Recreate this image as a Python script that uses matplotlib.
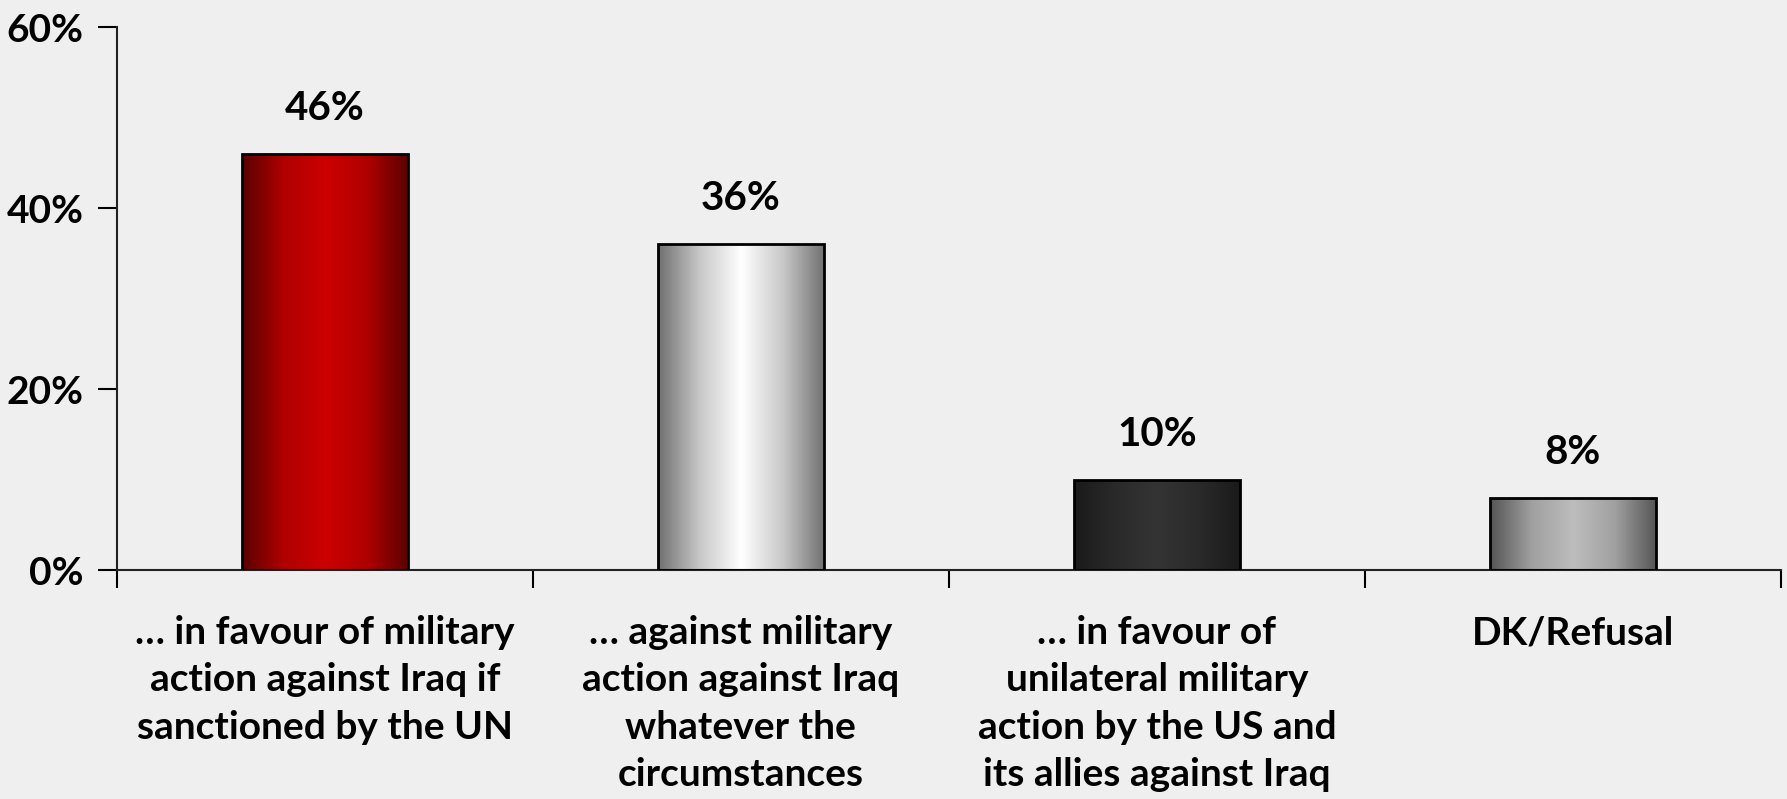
import numpy as np
import matplotlib
matplotlib.use("Agg")
import matplotlib.pyplot as plt
from matplotlib.colors import LinearSegmentedColormap

categories = [
    "\u2026 in favour of military\naction against Iraq if\nsanctioned by the UN",
    "\u2026 against military\naction against Iraq\nwhatever the\ncircumstances",
    "\u2026 in favour of\nunilateral military\naction by the US and\nits allies against Iraq",
    "DK/Refusal",
]
values = [46, 36, 10, 8]
value_labels = ["46%", "36%", "10%", "8%"]
# edge colour -> centre colour -> edge colour of each bar's gradient
bar_gradients = [
    ["#5a0000", "#b00000", "#cc0000", "#b00000", "#5a0000"],
    ["#707070", "#c8c8c8", "#ffffff", "#c8c8c8", "#707070"],
    ["#1a1a1a", "#2a2a2a", "#343434", "#2a2a2a", "#1a1a1a"],
    ["#555555", "#a0a0a0", "#bdbdbd", "#a0a0a0", "#555555"],
]
yticks = [0, 20, 40, 60]

bg = "#efefef"
plt.rcParams["font.family"] = ["Lato", "DejaVu Sans"]
plt.rcParams["font.weight"] = "bold"

fig = plt.figure(figsize=(17.87, 7.99), dpi=100, facecolor=bg)
ax = fig.add_axes([0.0655, 0.2866, 0.931, 0.6796])
ax.set_facecolor(bg)

x = np.arange(len(values))
bars = ax.bar(x, values, width=0.4, facecolor="none", edgecolor="black",
              linewidth=2, zorder=3)

grad = np.linspace(0, 1, 256).reshape(1, -1)
for b, cols in zip(bars, bar_gradients):
    cmap = LinearSegmentedColormap.from_list("g", cols)
    x0, y0 = b.get_x(), b.get_y()
    im = ax.imshow(grad, cmap=cmap, aspect="auto",
                   extent=[x0, x0 + b.get_width(), y0, y0 + b.get_height()],
                   zorder=2)
    im.set_clip_path(b)

for xi, v, lab in zip(x, values, value_labels):
    ax.text(xi, v + 5, lab, ha="center", va="center", fontsize=29,
            fontweight="bold")

ax.set_xlim(-0.5, len(values) - 0.5)
ax.set_ylim(0, 60)
ax.set_yticks(yticks)
ax.set_yticklabels([f"{t}%" for t in yticks], fontsize=28, fontweight="bold")
ax.set_xticks(np.arange(-0.5, len(values), 1.0))
ax.set_xticklabels([])
ax.tick_params(axis="y", direction="out", length=14, width=1.5, pad=10)
ax.tick_params(axis="x", direction="out", length=13, width=1.5)

for xi, cat in zip(x, categories):
    ax.text(xi, -5.0, cat, ha="center", va="top", fontsize=28,
            fontweight="bold", linespacing=1.42, transform=ax.transData,
            clip_on=False)

for s in ["top", "right"]:
    ax.spines[s].set_visible(False)
for s in ["left", "bottom"]:
    ax.spines[s].set_linewidth(1.5)
    ax.spines[s].set_color("#222222")

fig.savefig("out.png", dpi=100, facecolor=bg)
